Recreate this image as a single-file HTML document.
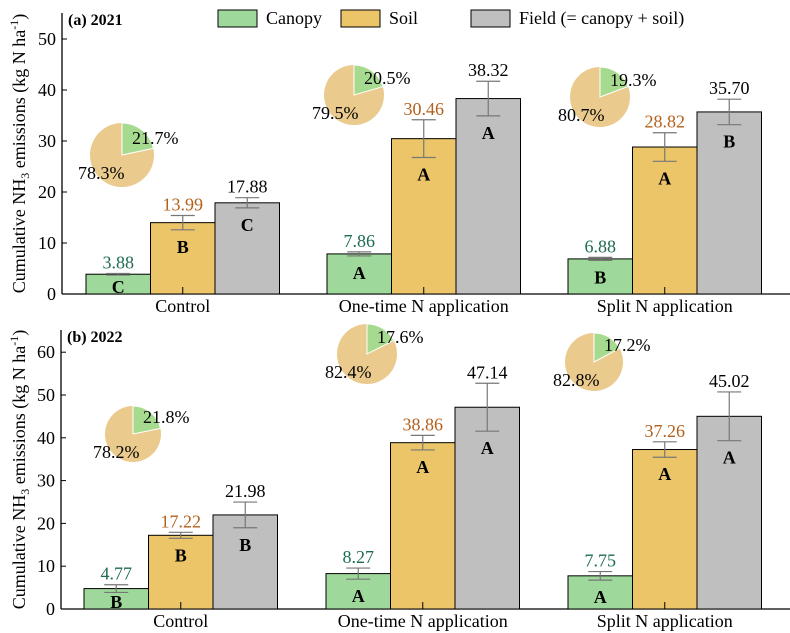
<!DOCTYPE html>
<html><head><meta charset="utf-8"><style>
body{margin:0;background:#fff}
svg{font-family:"Liberation Serif",serif;display:block}
</style></head><body>
<svg id="s" width="790" height="633" viewBox="0 0 790 633" xmlns="http://www.w3.org/2000/svg"></svg>
<script>
const S=document.getElementById('s');let h='';
const cols=['#9fd89b','#ecc568','#bfbfbf'], lc=['#1e6b50','#b3601c','#000'];
function panel(p){
 const Y=v=>p.y0-v*p.k;
 h+=`<line x1="${p.ax}" y1="${p.top}" x2="${p.ax}" y2="${p.y0}" stroke="#000" stroke-width="1.3"/>`;
 h+=`<line x1="${p.ax}" y1="${p.y0}" x2="790" y2="${p.y0}" stroke="#000" stroke-width="1.3"/>`;
 for(let v=0;v<=p.max;v+=10){h+=`<line x1="${p.ax}" y1="${Y(v)}" x2="${p.ax+5}" y2="${Y(v)}" stroke="#000"/>`;
  h+=`<text x="${p.ax-6}" y="${Y(v)+6}" font-size="18" text-anchor="end">${v}</text>`;}
 h+=`<text x="${p.ax+6}" y="${p.top+12}" font-size="16" font-weight="bold">${p.title}</text>`;
 const cx=(p.y0+p.top)/2;
 h+=`<text transform="translate(25,${cx}) rotate(-90)" font-size="18" text-anchor="middle">Cumulative NH<tspan font-size="12" dy="4">3</tspan><tspan dy="-4"> emissions (kg N ha</tspan><tspan font-size="12" dy="-7">-1</tspan><tspan dy="7">)</tspan></text>`;
 p.g.forEach((g,gi)=>{
  const x0=p.gx[gi];
  g.v.forEach((v,i)=>{
   const x=x0+i*64.5,w=64.5,e=g.e[i];
   h+=`<rect x="${x}" y="${Y(v)}" width="${w}" height="${v*p.k}" fill="${cols[i]}" stroke="#000" stroke-width="1"/>`;
   const m=x+w/2;
   h+=`<g stroke="#777" stroke-width="1.2"><line x1="${m}" y1="${Y(v+e)}" x2="${m}" y2="${Y(v-e)}"/><line x1="${m-12}" y1="${Y(v+e)}" x2="${m+12}" y2="${Y(v+e)}"/><line x1="${m-12}" y1="${Y(v-e)}" x2="${m+12}" y2="${Y(v-e)}"/></g>`;
   h+=`<text x="${m}" y="${Y(v+e)-5}" font-size="18" fill="${lc[i]}" text-anchor="middle">${v.toFixed(2)}</text>`;
   h+=`<text x="${m}" y="${Math.min(Y(v-e)+23,p.y0-1)}" font-size="18" font-weight="bold" text-anchor="middle">${g.l[i]}</text>`;
  });
  h+=`<line x1="${x0+96.75}" y1="${p.y0}" x2="${x0+96.75}" y2="${p.y0-7}" stroke="#000"/>`;
  h+=`<text x="${x0+96.75}" y="${p.y0+18}" font-size="18" text-anchor="middle">${g.n}</text>`;
  const [px,py,r,f]=g.pie, a=f*2*Math.PI, ex=px+r*Math.sin(a), ey=py-r*Math.cos(a);
  h+=`<circle cx="${px}" cy="${py}" r="${r}" fill="#ebca8e"/>`;
  h+=`<path d="M${px},${py} L${px},${py-r} A${r},${r} 0 0 1 ${ex},${ey} Z" fill="#a6da8e" stroke="#fff" stroke-width="1"/>`;
  h+=`<text x="${px+10}" y="${py-11}" font-size="18">${(f*100).toFixed(1)}%</text>`;
  h+=`<text x="${px-r-12}" y="${py+24}" font-size="18">${(100-f*100).toFixed(1)}%</text>`;
 });
}
panel({ax:62,y0:294,k:5.1,top:13,max:50,title:"(a) 2021",gx:[86,327,568],g:[
 {n:"Control",v:[3.88,13.99,17.88],e:[0.15,1.4,1],l:["C","B","C"],pie:[122,155,32,0.217]},
 {n:"One-time N application",v:[7.86,30.46,38.32],e:[0.4,3.7,3.4],l:["A","A","A"],pie:[354,95,30,0.205]},
 {n:"Split N application",v:[6.88,28.82,35.70],e:[0.3,2.8,2.5],l:["B","A","B"],pie:[600,97,30,0.193]}]});
panel({ax:61,y0:609,k:4.28,top:330,max:60,title:"(b) 2022",gx:[84,326,568],g:[
 {n:"Control",v:[4.77,17.22,21.98],e:[0.9,0.7,3],l:["B","B","B"],pie:[133,434,28,0.218]},
 {n:"One-time N application",v:[8.27,38.86,47.14],e:[1.3,1.7,5.6],l:["A","A","A"],pie:[367,354,30,0.176]},
 {n:"Split N application",v:[7.75,37.26,45.02],e:[1,1.8,5.7],l:["A","A","A"],pie:[594,362,29,0.172]}]});
[[218,"Canopy"],[341,"Soil"],[471,"Field (= canopy + soil)"]].forEach((l,i)=>{
 h+=`<rect x="${l[0]}" y="10" width="39" height="17" fill="${cols[i]}" stroke="#000"/>`;
 h+=`<text x="${l[0]+48}" y="24" font-size="18">${l[1]}</text>`;});
S.innerHTML=h;
</script>
</body></html>
